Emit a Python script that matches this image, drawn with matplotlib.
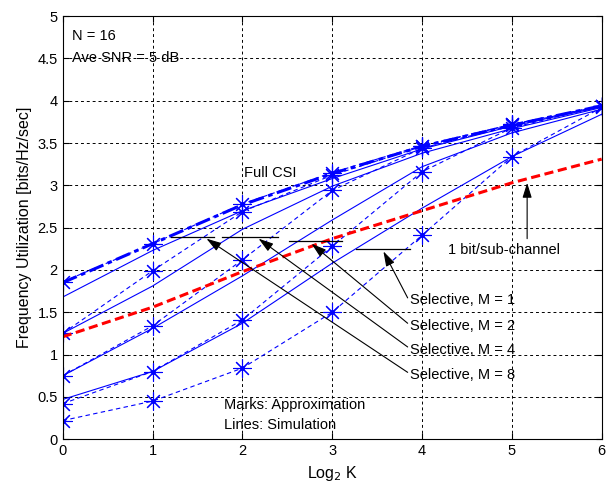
import numpy as np
import matplotlib
matplotlib.use("Agg")
import matplotlib.pyplot as plt

plt.rcParams['font.family'] = ['Liberation Sans', 'DejaVu Sans']

# --- data ---
log2k = [0, 1, 2, 3, 4, 5, 6]
full_sim = [1.85, 2.31, 2.77, 3.14, 3.46, 3.71, 3.94]
full_apx = [1.86, 2.31, 2.78, 3.15, 3.47, 3.72, 3.94]
# simulation (solid lines)
sim_curves = [
    [1.68, 2.23, 2.70, 3.08, 3.43, 3.70, 3.93],
    [1.25, 1.81, 2.48, 2.99, 3.38, 3.67, 3.92],
    [0.75, 1.31, 1.93, 2.59, 3.22, 3.62, 3.90],
    [0.47, 0.80, 1.37, 2.08, 2.73, 3.34, 3.84],
]
# approximation (marks, dashed)
apx_curves = [
    [1.25, 1.99, 2.69, 3.12, 3.46, 3.72, 3.94],
    [0.75, 1.34, 2.12, 2.94, 3.44, 3.71, 3.94],
    [0.42, 0.80, 1.41, 2.28, 3.16, 3.68, 3.94],
    [0.22, 0.45, 0.84, 1.50, 2.41, 3.34, 3.92],
]
one_bit = [1.21, 1.56, 1.98, 2.37, 2.70, 3.03, 3.31]

sel_labels = ["Selective, M = 1", "Selective, M = 2", "Selective, M = 4", "Selective, M = 8"]
sel_text_y = [1.64, 1.34, 1.06, 0.76]
seg_x = [(3.26, 3.87), (2.52, 3.11), (1.77, 2.40), (1.21, 1.68)]
seg_y = [2.25, 2.34, 2.39, 2.39]
head_xy = [(3.57, 2.22), (2.77, 2.31), (2.18, 2.37), (1.60, 2.37)]

yticks = [0, 0.5, 1, 1.5, 2, 2.5, 3, 3.5, 4, 4.5, 5]
ytick_labels = ["0", "0.5", "1", "1.5", "2", "2.5", "3", "3.5", "4", "4.5", "5"]

blue = "#0000ff"
star = (8, 2, 0)
arrow = dict(arrowstyle="-|>,head_length=0.9,head_width=0.28", color="black", lw=0.8,
             shrinkA=0, shrinkB=0)

fig = plt.figure(figsize=(6.09, 4.88), dpi=100)
ax = fig.add_axes([0.103, 0.100, 0.885, 0.867])

for s in sim_curves:
    ax.plot(log2k, s, "-", color=blue, lw=0.8)
for a in apx_curves:
    ax.plot(log2k, a, color=blue, lw=0.8, ls=(0, (4, 3)), marker=star, ms=13, mew=0.8)
    ax.plot(log2k, a, ls="none", color=blue, marker="o", ms=2.5)
ax.plot(log2k, full_sim, color=blue, lw=2.2, ls=(0, (5, 1.5, 1.5, 1.5)))
ax.plot(log2k, full_apx, color=blue, lw=0.8, ls=(0, (4, 3)), marker=star, ms=13, mew=0.8)
ax.plot(log2k, full_apx, ls="none", color=blue, marker="o", ms=2.5)
ax.plot(log2k, one_bit, color="red", lw=2.2, ls=(0, (3, 1.5)))

# annotations
ax.text(0.1, 4.76, "N = 16", fontsize=10.5, va="center")
ax.text(0.1, 4.50, "Ave SNR = 5 dB", fontsize=10.5, va="center")
ax.text(2.02, 3.15, "Full CSI", fontsize=10.5, va="center")
ax.text(1.80, 0.40, "Marks: Approximation", fontsize=10.5, va="center")
ax.text(1.80, 0.17, "Lines: Simulation", fontsize=10.5, va="center")
ax.text(4.29, 2.23, "1 bit/sub-channel", fontsize=10.5, va="center")
ax.annotate("", xy=(5.17, 3.03), xytext=(5.17, 2.37), arrowprops=arrow)

for lab, ty, sx, sy, hxy in zip(sel_labels, sel_text_y, seg_x, seg_y, head_xy):
    ax.plot(sx, [sy, sy], color="black", lw=0.9)
    ax.annotate("", xy=hxy, xytext=(3.84, ty + 0.03), arrowprops=arrow)
    ax.text(3.87, ty, lab, fontsize=10.5, va="center")

ax.set_xlim(0, 6)
ax.set_ylim(0, 5)
ax.set_yticks(yticks)
ax.set_yticklabels(ytick_labels)
ax.set_xticks(log2k)
ax.tick_params(direction="in", labelsize=10.5, length=4, top=True, right=True)
ax.grid(True, color="black", ls=(0, (3, 3)), lw=0.7)
ax.set_axisbelow(True)
ax.set_xlabel("Log$_2$ K", fontsize=11.5)
ax.set_ylabel("Frequency Utilization [bits/Hz/sec]", fontsize=11.5)

fig.savefig("out.png", dpi=100)
